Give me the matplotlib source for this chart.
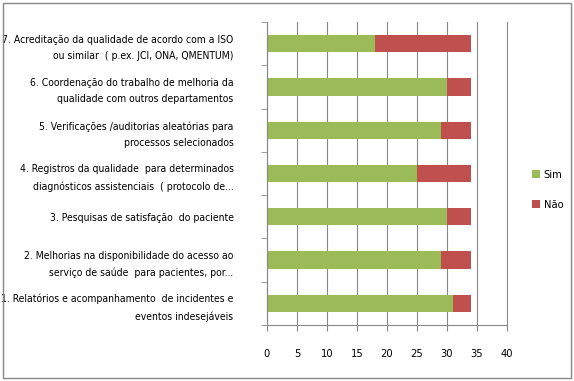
import matplotlib
matplotlib.use("Agg")
import matplotlib.pyplot as plt
import numpy as np
from matplotlib.patches import Rectangle

categories = [
    "1. Relatórios e acompanhamento  de incidentes e\neventos indesejáveis",
    "2. Melhorias na disponibilidade do acesso ao\nserviço de saúde  para pacientes, por...",
    "3. Pesquisas de satisfação  do paciente",
    "4. Registros da qualidade  para determinados\ndiagnósticos assistenciais  ( protocolo de...",
    "5. Verificações /auditorias aleatórias para\nprocessos selecionados",
    "6. Coordenação do trabalho de melhoria da\nqualidade com outros departamentos",
    "7. Acreditação da qualidade de acordo com a ISO\nou similar  ( p.ex. JCI, ONA, QMENTUM)",
]
sim = [31, 29, 30, 25, 29, 30, 18]
nao = [3, 5, 4, 9, 5, 4, 16]
xticks = [0, 5, 10, 15, 20, 25, 30, 35, 40]

plt.rcParams['font.family'] = ['DejaVu Sans']
plt.rcParams['font.stretch'] = 'condensed'

fig = plt.figure(figsize=(5.74, 3.81), dpi=100)
ax = fig.add_axes([0.465, 0.147, 0.418, 0.795])

y = np.arange(len(categories))
ax.barh(y, sim, height=0.4, color="#9bbb59", label="Sim")
ax.barh(y, nao, left=sim, height=0.4, color="#c0504d", label="Não")

ax.set_xlim(0, 40)
ax.set_ylim(-0.5, len(categories) - 0.5)
ax.set_xticks(xticks)
ax.set_xticklabels([str(t) for t in xticks], fontsize=8)
ax.set_yticks(y)
ax.set_yticklabels(categories, fontsize=7.5, ha="right", linespacing=1.8)
ax.tick_params(axis="y", length=0, pad=24)
ax.set_yticks(np.arange(-0.5, len(categories), 1), minor=True)
ax.tick_params(axis="y", which="minor", length=4, color="#888888")
ax.tick_params(axis="x", length=4, color="#888888", pad=13)
ax.grid(axis="x", color="#888888", linewidth=0.8)
for gl in ax.get_xgridlines():
    gl.set_clip_on(False)
ax.set_axisbelow(True)
for s in ["top", "right"]:
    ax.spines[s].set_visible(False)
for s in ["left", "bottom"]:
    ax.spines[s].set_color("#888888")

ax.legend(loc="center left", bbox_to_anchor=(1.065, 0.445), frameon=False,
          fontsize=8, handlelength=0.7, handleheight=0.7, labelspacing=1.8,
          handletextpad=0.3)

fig.patches.append(Rectangle((0.006, 0.008), 0.988, 0.984, transform=fig.transFigure,
                             fill=False, edgecolor="#888888", linewidth=1))

fig.savefig("out.png", dpi=100)
